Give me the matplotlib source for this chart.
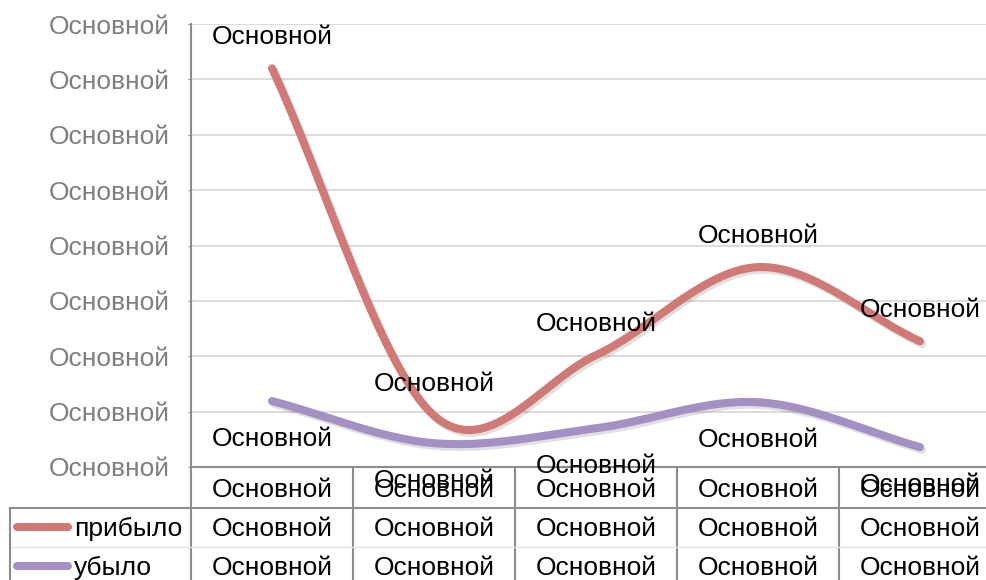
import numpy as np
import matplotlib
matplotlib.use("Agg")
import matplotlib.pyplot as plt
import matplotlib.patheffects as pe
from matplotlib.lines import Line2D
from matplotlib import transforms

plt.rcParams['font.family'] = ['Liberation Sans', 'DejaVu Sans']

# --- data ---
categories = ["Основной"] * 5
series_names = ["прибыло", "убыло"]
arrived = [7.20, 0.93, 2.02, 3.61, 2.27]
departed = [1.19, 0.43, 0.70, 1.17, 0.36]
arrived_labels = ["Основной"] * 5
departed_labels = ["Основной"] * 5
table_arrived = ["Основной"] * 5
table_departed = ["Основной"] * 5
y_tick_labels = ["Основной"] * 9
colors = ["#D07A77", "#A590C4"]

W, H = 987, 580
FS = 19
fig = plt.figure(figsize=(W / 100, H / 100), dpi=100)


def fx(px):
    return px / W


def fy(py):
    return 1 - py / H


ax = fig.add_axes([fx(191), fy(467), fx(1001) - fx(191), fy(24) - fy(467)])
ax.set_xlim(-0.5, 4.5)
ax.set_ylim(0, 8)

ax.set_yticks(range(9))
ax.set_yticklabels(y_tick_labels)
ax.tick_params(axis='y', colors='#8c8c8c', labelcolor='#7f7f7f',
               labelsize=FS, length=2.5, pad=13)
ax.set_xticks([])
ax.yaxis.grid(True, color='#d9d9d9', lw=1.3)
ax.set_axisbelow(True)
for s in ('top', 'right'):
    ax.spines[s].set_visible(False)
for s in ('left', 'bottom'):
    ax.spines[s].set_color('#8c8c8c')
    ax.spines[s].set_linewidth(1.5)


def catmull_rom(xs, ys, steps=60):
    x = np.asarray(xs, float)
    y = np.asarray(ys, float)
    px = np.concatenate([[2 * x[0] - x[1]], x, [2 * x[-1] - x[-2]]])
    py = np.concatenate([[2 * y[0] - y[1]], y, [2 * y[-1] - y[-2]]])
    out_x, out_y = [], []
    t = np.linspace(0, 1, steps)
    for i in range(1, len(px) - 2):
        for arr, out in ((px, out_x), (py, out_y)):
            p0, p1, p2, p3 = arr[i - 1], arr[i], arr[i + 1], arr[i + 2]
            m1 = (p2 - p0) / 2
            m2 = (p3 - p1) / 2
            h00 = 2 * t**3 - 3 * t**2 + 1
            h10 = t**3 - 2 * t**2 + t
            h01 = -2 * t**3 + 3 * t**2
            h11 = t**3 - t**2
            out.extend(h00 * p1 + h10 * m1 + h01 * p2 + h11 * m2)
    return np.array(out_x), np.array(out_y)


xs = np.arange(len(categories))
shadow = [pe.SimpleLineShadow(offset=(1.5, -2.0), shadow_color='#666666', alpha=0.2),
          pe.Normal()]
for vals, col in ((arrived, colors[0]), (departed, colors[1])):
    sx, sy = catmull_rom(xs, vals)
    ax.plot(sx, sy, color=col, lw=5.8, solid_capstyle='round',
            path_effects=shadow, clip_on=False, zorder=3)

for i, (v, lbl) in enumerate(zip(arrived, arrived_labels)):
    ax.annotate(lbl, (i, v), xytext=(0, 22.5), textcoords='offset points',
                ha='center', va='center', fontsize=FS, zorder=5)
for i, (v, lbl) in enumerate(zip(departed, departed_labels)):
    ax.annotate(lbl, (i, v), xytext=(0, -27), textcoords='offset points',
                ha='center', va='center', fontsize=FS, zorder=5)

# --- data table below the plot ---
trans = transforms.blended_transform_factory(ax.transData, fig.transFigure)
grey = '#8c8c8c'
fig.add_artist(Line2D([fx(10), fx(W)], [fy(508), fy(508)], color=grey, lw=1.5))
fig.add_artist(Line2D([fx(10), fx(W)], [fy(547), fy(547)], color='#e4e4e4', lw=1.0))
fig.add_artist(Line2D([fx(10), fx(10)], [fy(508), fy(H)], color=grey, lw=1.5))
for b in np.arange(len(categories) + 1) - 0.5:
    ax.add_artist(Line2D([b, b], [fy(467), fy(H)], transform=trans,
                         color=grey, lw=1.5, clip_on=False))

for i in xs:
    ax.text(i, fy(490), categories[i], transform=trans, ha='center',
            va='center', fontsize=FS)
    ax.text(i, fy(529), table_arrived[i], transform=trans, ha='center',
            va='center', fontsize=FS)
    ax.text(i, fy(568), table_departed[i], transform=trans, ha='center',
            va='center', fontsize=FS)

for name, col, row_y in zip(series_names, colors, (527, 566)):
    fig.add_artist(Line2D([fx(17), fx(68)], [fy(row_y), fy(row_y)], color=col,
                          lw=5.8, solid_capstyle='round'))
    fig.text(fx(74), fy(row_y + 2), name, ha='left', va='center', fontsize=FS)

fig.savefig('out.png', dpi=100)
